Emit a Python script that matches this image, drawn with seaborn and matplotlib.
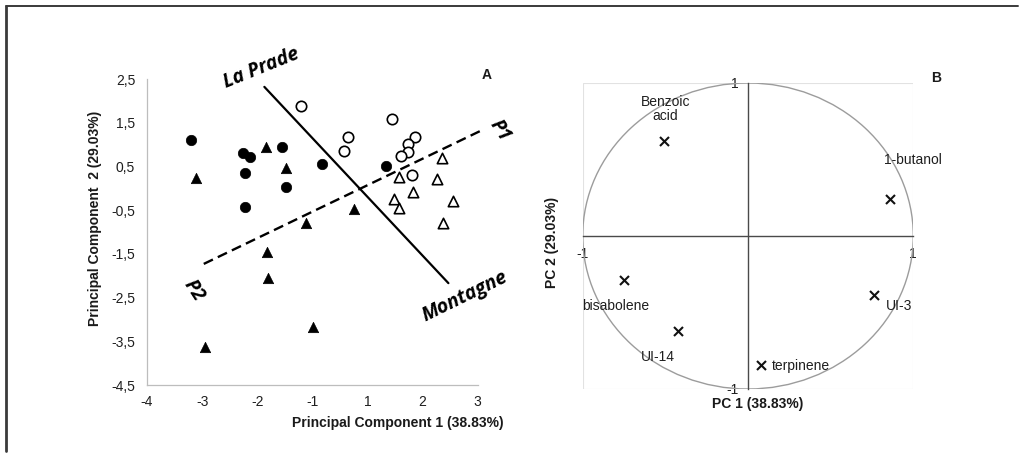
import numpy as np
import matplotlib
matplotlib.use("Agg")
import matplotlib.pyplot as plt
from matplotlib.patches import Circle, Rectangle
from matplotlib.lines import Line2D
from matplotlib.ticker import FixedLocator, FuncFormatter, NullLocator
import seaborn as sns

# ---------------- data ----------------
# Panel A: sample scores (PC1, PC2)
filled_circle_pc1 = [-3.21, -2.25, -2.13, -2.23, -1.55, -1.47, -2.23, -0.63, 1.34]
filled_circle_pc2 = [1.10, 0.80, 0.72, 0.36, 0.95, 0.02, -0.42, 0.56, 0.50]

filled_triangle_pc1 = [-3.11, -1.84, -1.47, -1.11, -1.82, -1.81, -0.99, -2.94, 0.50]
filled_triangle_pc2 = [0.23, 0.95, 0.47, -0.80, -1.45, -2.05, -3.18, -3.62, -0.48]

open_circle_pc1 = [-1.21, 1.45, 0.30, 0.16, 1.86, 1.74, 1.74, 1.61, 1.81]
open_circle_pc2 = [1.89, 1.58, 1.17, 0.86, 1.18, 1.01, 0.84, 0.74, 0.30]

open_triangle_pc1 = [2.35, 2.27, 1.58, 1.82, 1.49, 1.58, 2.55, 2.38]
open_triangle_pc2 = [0.69, 0.21, 0.25, -0.09, -0.25, -0.46, -0.28, -0.79]

# separating lines drawn over the score plot
site_line_pc1 = [-1.87, 2.47]
site_line_pc2 = [2.32, -2.17]
position_line_pc1 = [-2.97, 3.08]
position_line_pc2 = [-1.73, 1.33]

# axis ticks of panel A
x_ticks = [-4, -3, -2, -1, 1, 2, 3]
y_ticks = [-4.5, -3.5, -2.5, -1.5, -0.5, 0.5, 1.5, 2.5]

# Panel B: variable loadings on the correlation circle
loading_names = ["Benzoic\nacid", "1-butanol", "bisabolene", "UI-14", "terpinene", "UI-3"]
loading_pc1 = [-0.51, 0.857, -0.753, -0.426, 0.079, 0.76]
loading_pc2 = [0.62, 0.24, -0.29, -0.62, -0.843, -0.388]

# ---------------- style ----------------
sns.set_theme(style="white")
plt.rcParams["font.family"] = ["Liberation Sans", "DejaVu Sans"]
plt.rcParams["font.size"] = 10

W, H = 1024, 457
fig = plt.figure(figsize=(W / 100, H / 100), dpi=100)
fig.patch.set_facecolor("white")


def px(x, y):
    """pixel position -> figure fraction"""
    return x / W, 1 - y / H


# outer frame (top and left edges)
fig.add_artist(Line2D([6 / W, 1018 / W], [1 - 6 / H, 1 - 6 / H], transform=fig.transFigure,
                      color="#3a3a3a", lw=1.4))
fig.add_artist(Line2D([6 / W, 6 / W], [1 - 6 / H, 1 - 451 / H], transform=fig.transFigure,
                      color="#3a3a3a", lw=2.0))

# ---------------- panel A ----------------
ax1 = fig.add_axes([147 / W, 1 - 385 / H, 330.6 / W, 306 / H])

mk = dict(s=56, ax=ax1, legend=False, zorder=3)
sns.scatterplot(x=filled_circle_pc1, y=filled_circle_pc2, marker="o",
                color="black", edgecolor="black", linewidth=0.5, **mk)
sns.scatterplot(x=filled_triangle_pc1, y=filled_triangle_pc2, marker="^",
                color="black", edgecolor="black", linewidth=0.5, **mk)
sns.scatterplot(x=open_circle_pc1, y=open_circle_pc2, marker="o",
                facecolor="white", edgecolor="black", linewidth=1.2, **mk)
sns.scatterplot(x=open_triangle_pc1, y=open_triangle_pc2, marker="^",
                facecolor="white", edgecolor="black", linewidth=1.2, **mk)

ax1.plot(site_line_pc1, site_line_pc2, color="black", lw=1.6, clip_on=False, zorder=2)
ax1.plot(position_line_pc1, position_line_pc2, color="black", lw=1.7,
         dashes=(4.3, 2.3), clip_on=False, zorder=2)


# the axis gives the span between -1 and 1 the width of a single unit
def fwd(v):
    v = np.asarray(v, dtype=float)
    return np.where(v <= -1, v, np.where(v < 1, (v - 1) / 2, v - 1))


def inv(u):
    u = np.asarray(u, dtype=float)
    return np.where(u <= -1, u, np.where(u < 0, 2 * u + 1, u + 1))


ax1.set_xscale("function", functions=(fwd, inv))
ax1.set_xlim(-4, 3)
ax1.set_ylim(-4.5, 2.5)
ax1.xaxis.set_major_locator(FixedLocator(x_ticks))
ax1.xaxis.set_minor_locator(NullLocator())
ax1.xaxis.set_major_formatter(FuncFormatter(lambda v, _: f"{v:.0f}"))
ax1.yaxis.set_major_locator(FixedLocator(y_ticks))
ax1.yaxis.set_major_formatter(FuncFormatter(lambda v, _: f"{v:.1f}".replace(".", ",")))
for side in ("top", "right"):
    ax1.spines[side].set_visible(False)
for side in ("left", "bottom"):
    ax1.spines[side].set_color("#bdbdbd")
    ax1.spines[side].set_linewidth(0.9)
ax1.tick_params(axis="both", which="major", direction="out", length=3, width=0.8,
                color="#bdbdbd", labelsize=10, labelcolor="#1e1e1e")
ax1.tick_params(axis="x", pad=4)
ax1.tick_params(axis="y", pad=5.5)
ax1.set_xlabel("")
ax1.set_ylabel("")
ax1.set_facecolor("none")

bold = dict(fontsize=10, fontweight="bold", color="#1a1a1a", ha="center", va="center")
fig.text(*px(397.5, 423), "Principal Component 1 (38.83%)", **bold)
fig.text(*px(95, 218), "Principal Component  2 (29.03%)", rotation=90, **bold)
fig.text(*px(487, 75), "A", **bold)

region = dict(fontsize=14, fontweight="bold", style="italic", color="black",
              ha="center", va="center", family=["Open Sans", "DejaVu Sans"])
fig.text(*px(261, 68), "La Prade", rotation=22, **region)
fig.text(*px(465, 297), "Montagne", rotation=26, **region)
fig.text(*px(500, 131), "P1", rotation=-57, **region)
fig.text(*px(193.5, 290.5), "P2", rotation=-57, **region)

# ---------------- panel B ----------------
ax2 = fig.add_axes([582.7 / W, 1 - 389 / H, 330.6 / W, 306 / H])
ax2.set_xlim(-1, 1)
ax2.set_ylim(-1, 1)
ax2.set_facecolor("none")
ax2.add_patch(Rectangle((0, 0), 1, 1, transform=ax2.transAxes, fill=False,
                        edgecolor="#e2e2e2", lw=0.8, zorder=0))
ax2.add_patch(Circle((0, 0), 1, fill=False, edgecolor="#9c9c9c", lw=1.0, zorder=1))

sns.scatterplot(x=loading_pc1, y=loading_pc2, marker="x", s=42, color="#111111",
                linewidth=1.5, ax=ax2, legend=False, zorder=3)

for side in ("top", "right"):
    ax2.spines[side].set_visible(False)
for side in ("left", "bottom"):
    ax2.spines[side].set_position(("data", 0))
    ax2.spines[side].set_color("#4a4a4a")
    ax2.spines[side].set_linewidth(1.0)
    ax2.spines[side].set_zorder(2)
ax2.set_xticks([-1, 1])
ax2.set_yticks([-1, 1])
ax2.xaxis.set_major_formatter(FuncFormatter(lambda v, _: f"{v:.0f}"))
ax2.yaxis.set_major_formatter(FuncFormatter(lambda v, _: f"{v:.0f}"))
ax2.tick_params(axis="both", length=0, labelsize=10, labelcolor="#1e1e1e", pad=8)
ax2.tick_params(axis="y", pad=7)
ax2.set_xlabel("")
ax2.set_ylabel("")

label_pos = [(-0.50, 0.83, "center"), (0.82, 0.50, "left"), (-0.80, -0.46, "center"),
             (-0.545, -0.79, "center"), (0.147, -0.85, "left"), (0.915, -0.46, "center")]
for name, (tx, ty, ha) in zip(loading_names, label_pos):
    ax2.text(tx, ty, name, fontsize=10, color="#1e1e1e", ha=ha, va="center",
             linespacing=1.05, zorder=4)

fig.text(*px(757.5, 404), "PC 1 (38.83%)", **bold)
fig.text(*px(552, 242), "PC 2 (29.03%)", rotation=90, **bold)
fig.text(*px(936, 78), "B", **bold)

fig.savefig("out.png", dpi=100, facecolor="white")
